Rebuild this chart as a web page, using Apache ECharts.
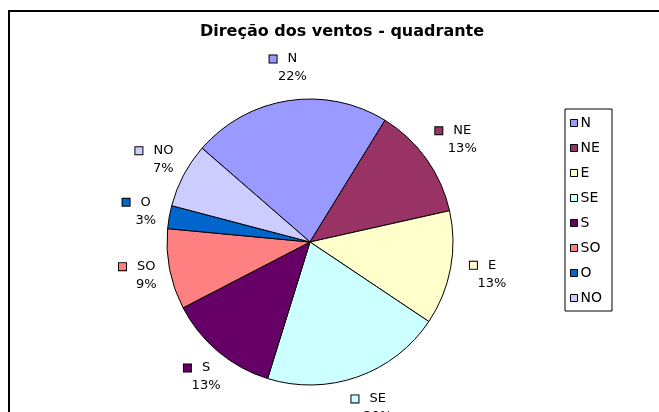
<!DOCTYPE html>
<html>
<head>
<meta charset="utf-8">
<script src="https://cdn.jsdelivr.net/npm/echarts@6/dist/echarts.min.js"></script>
<style>
  html, body { margin: 0; padding: 0; background: #fff; }
  #chart { width: 659px; height: 412px; }
</style>
</head>
<body>
<div id="chart"></div>
<script>
// dados
const categories = ['N', 'NE', 'E', 'SE', 'S', 'SO', 'O', 'NO'];
const values = [22.4, 12.7, 12.9, 20.4, 12.6, 9.1, 2.6, 7.3];
const colors = ['#9999FF', '#993366', '#FFFFCC', '#CCFFFF', '#660066', '#FF8080', '#0066CC', '#CCCCFF'];

const chart = echarts.init(document.getElementById('chart'), null, { renderer: 'canvas' });

const font = 'DejaVu Sans';

// quadradinho da legenda dentro do rótulo
const rich = {
  g: { width: 11, height: 7, lineHeight: 18, align: 'center' },
  g2: { width: 18, height: 7, lineHeight: 18, align: 'center' },
  n: { fontSize: 13, fontFamily: font, color: '#000', lineHeight: 18, align: 'center' },
};
colors.forEach((c, i) => {
  rich['k' + i] = {
    width: 7, height: 7, backgroundColor: c,
    borderColor: '#000', borderWidth: 1, lineHeight: 18, align: 'center',
  };
});

const option = {
  animation: false,
  color: colors,
  title: {
    text: 'Direção dos ventos - quadrante',
    left: 342,
    top: 24,
    textAlign: 'center',
    padding: 0,
    textStyle: { fontFamily: font, fontSize: 16, fontWeight: 'bold', color: '#000' },
  },
  legend: {
    orient: 'vertical',
    left: 565,
    top: 109,
    padding: [7, 10, 6, 5],
    itemWidth: 7,
    itemHeight: 7,
    itemGap: 11,
    borderColor: '#000',
    borderWidth: 1,
    borderRadius: 0,
    icon: 'rect',
    itemStyle: { borderColor: '#000', borderWidth: 1 },
    textStyle: { fontFamily: font, fontSize: 14, color: '#000', padding: [0, 0, 0, -2] },
    data: categories,
  },
  graphic: [
    {
      type: 'rect',
      shape: { x: 9, y: 11, width: 720, height: 460 },
      style: { fill: 'none', stroke: '#000', lineWidth: 2 },
      silent: true,
      z: -1,
    },
  ],
  series: [
    {
      name: 'Direção dos ventos',
      type: 'pie',
      center: [310, 242],
      radius: 143,
      startAngle: 139,
      clockwise: true,
      percentPrecision: 0,
      avoidLabelOverlap: false,
      itemStyle: { borderColor: '#000', borderWidth: 1 },
      emphasis: { disabled: true },
      label: {
        show: true,
        position: 'outside',
        distanceToLabelLine: 0,
        fontFamily: font,
        fontSize: 13,
        color: '#000',
        formatter: (p) => '{k' + p.dataIndex + '|}{g|}{n|' + p.name + '}\n{g2|}{n|' + p.percent + '%}',
        rich: rich,
      },
      labelLine: { show: false, length: 33, length2: 0 },
      labelLayout: () => ({ align: 'center', verticalAlign: 'middle' }),
      data: categories.map((c, i) => ({ name: c, value: values[i] })),
    },
  ],
};

chart.setOption(option);
</script>
</body>
</html>
